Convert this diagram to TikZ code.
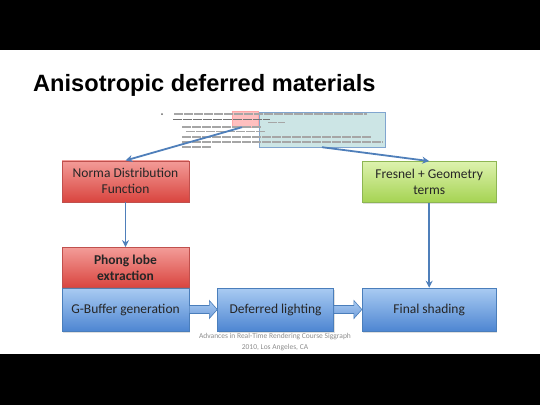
\documentclass[tikz,border=0pt]{standalone}
\usepackage{fontspec}
\setmainfont{Carlito}
\newfontfamily\titlefont{Liberation Sans}
\usetikzlibrary{positioning,calc,arrows.meta,shadows}
\definecolor{redtop}{HTML}{F39C98}
\definecolor{redbot}{HTML}{D9453F}
\definecolor{redline}{HTML}{C0504D}
\definecolor{bluetop}{HTML}{A9CBF2}
\definecolor{bluebot}{HTML}{4E86D2}
\definecolor{blueline}{HTML}{4A7EBB}
\definecolor{greentop}{HTML}{DDF2AE}
\definecolor{greenbot}{HTML}{A5D352}
\definecolor{greenline}{HTML}{8DB652}
\definecolor{linkcol}{HTML}{4F7FBA}
\tikzstyle{stage}=[rectangle,draw,line width=0.6pt,inner sep=0pt,align=center,
  minimum height=43pt,text=black!85,font=\fontsize{13.5}{16}\selectfont,
  drop shadow={opacity=0.25,shadow xshift=1pt,shadow yshift=-1.5pt}]
\tikzstyle{redstage}=[stage,top color=redtop,bottom color=redbot,draw=redline]
\tikzstyle{bluestage}=[stage,top color=bluetop,bottom color=bluebot,draw=blueline]
\tikzstyle{greenstage}=[stage,top color=greentop,bottom color=greenbot,draw=greenline]
\tikzstyle{link}=[draw=linkcol,line width=1.8pt,-{Stealth[length=7pt,width=7pt]}]
\tikzstyle{blockarrow}=[draw=blueline,line width=0.6pt,top color=bluetop,bottom color=bluebot!80]
\tikzstyle{textline}=[draw=black!35,line width=1.2pt,dash pattern=on 9pt off 1pt]

\begin{document}
\begin{tikzpicture}[x=1pt,y=-1pt]
  \useasboundingbox (0,0) rectangle (540,405);
  \fill[black] (0,0) rectangle (540,50);
  \fill[black] (0,354) rectangle (540,405);

  \node[anchor=base west,inner sep=0pt,font=\titlefont\bfseries\fontsize{23.6}{28}\selectfont] (title) at (33,91) {Anisotropic deferred materials};

  % slide thumbnail
  \node[fill=red!25,draw=red!35,minimum width=26pt,minimum height=16pt,inner sep=0pt] (hlone) at (245,119) {};
  \node[fill=teal!20,draw=blueline!70,minimum width=126pt,minimum height=35pt,inner sep=0pt] (hltwo) at (322,129.5) {};
  \fill[black!60] (162,114) circle (1pt);
  \draw[textline] (174,114) -- (367,114);
  \draw[textline,black!55,line width=1.6pt] (173,119.5) -- (270,119.5);
  \draw[textline,line width=0.9pt] (268,122.5) -- (285,122.5);
  \draw[textline] (182,127) -- (262,127);
  \draw[textline,line width=0.9pt] (186,131) -- (266,131);
  \draw[textline] (182,137) -- (372,137);
  \draw[textline] (182,142) -- (383,142);
  \draw[textline] (182,147) -- (212,147);

  % pipeline
  \node[bluestage,minimum width=127pt] (gbuf) at (125.5,309.5) {G-Buffer generation};
  \node[bluestage,minimum width=116pt,right=28pt of gbuf] (defl) {Deferred lighting};
  \node[bluestage,minimum width=134pt,right=28pt of defl] (final) {Final shading};
  \node[redstage,minimum width=127pt,minimum height=40pt,above=0pt of gbuf,font=\fontsize{13.5}{16}\selectfont\bfseries] (phong) {Phong lobe\\extraction};
  \node[redstage,minimum width=127pt,minimum height=41pt,above=45pt of phong] (ndf) {Norma Distribution\\Function};
  \node[greenstage,minimum width=134pt,minimum height=41pt,above=85pt of final] (fresnel) {Fresnel + Geometry\\terms};

  \draw[link] (ndf) -- (phong);
  \draw[link] (fresnel) -- (final);
  \draw[link] ($(hlone.south)+(-3,0)$) -- (ndf.north);
  \draw[link] (hltwo.south) -- (fresnel.north);

  \foreach \a/\b in {gbuf/defl,defl/final}
    \draw[blockarrow] ($(\a.east)+(0,-4)$) -- ($(\b.west)+(-8,-4)$) -- ($(\b.west)+(-8,-9)$)
      -- (\b.west) -- ($(\b.west)+(-8,9)$) -- ($(\b.west)+(-8,4)$) -- ($(\a.east)+(0,4)$) -- cycle;

  \node[text=black!45,align=center,font=\fontsize{7.5}{11}\selectfont] (credit) at (275,342.5)
    {Advances in Real-Time Rendering Course Siggraph\\2010, Los Angeles, CA};
\end{tikzpicture}
\end{document}
